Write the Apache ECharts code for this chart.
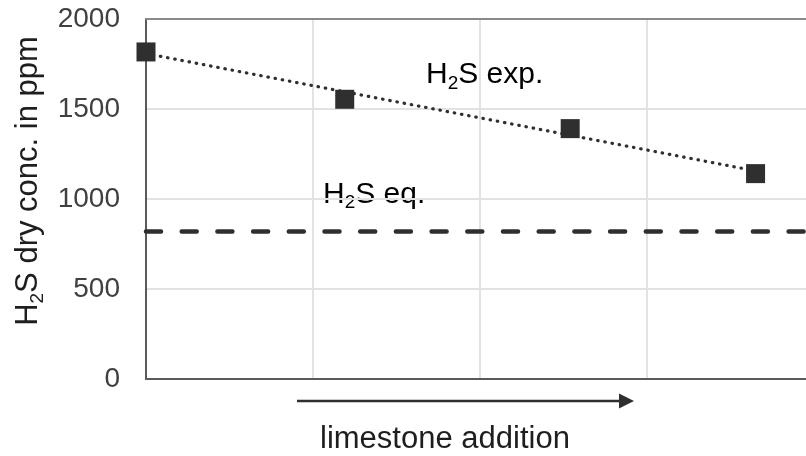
<!DOCTYPE html>
<html>
<head>
<meta charset="utf-8">
<script src="https://cdn.jsdelivr.net/npm/echarts@6/dist/echarts.min.js"></script>
<style>
  html, body { margin: 0; padding: 0; background: #fff; }
  #chart { width: 806px; height: 456px; }
</style>
</head>
<body>
<div id="chart"></div>
<script>
// measured H2S concentration (x = position along the limestone axis, arbitrary units)
const expX = [0, 1.19, 2.54, 3.65]
const expY = [1817, 1554, 1391, 1141]
// linear trend line, endpoints
const trendX = [0, 3.65]
const trendY = [1808, 1156]
// equilibrium level
const eqX = [0, 3.952]
const eqY = [820, 820]
// axis ranges (the plot runs past the right edge of the picture)
const yMin = 0, yMax = 2000, yStep = 500
const xMin = 0, xMax = 3.952, xStep = 1

const font = '"Liberation Sans", Arial, sans-serif'
const dark = '#2f2f2f'

const subRich = (size, subSize) => ({
  m: { fontSize: size, lineHeight: 36, fontFamily: font, color: '#1e1e1e' },
  s: { fontSize: subSize, lineHeight: 16, verticalAlign: 'bottom', fontFamily: font, color: '#1e1e1e' }
})

const chart = echarts.init(document.getElementById('chart'))

chart.setOption({
  backgroundColor: '#fff',
  animation: false,
  grid: { left: 146, top: 19, right: 0, height: 360 },
  xAxis: [
    {
      type: 'value', min: xMin, max: xMax, interval: xStep,
      axisLine: { show: true, onZero: false, lineStyle: { color: '#5a5a5a', width: 2 } },
      axisTick: { show: false },
      axisLabel: { show: false },
      splitLine: { show: true, showMaxLine: false, lineStyle: { color: '#e2e2e2', width: 2 } }
    },
    {
      type: 'value', position: 'top', min: xMin, max: xMax, interval: xStep,
      axisLine: { show: true, onZero: false, lineStyle: { color: '#8a8a8a', width: 2 } },
      axisTick: { show: false },
      axisLabel: { show: false },
      splitLine: { show: false }
    }
  ],
  yAxis: {
    type: 'value', min: yMin, max: yMax, interval: yStep,
    axisLine: { show: true, lineStyle: { color: '#5a5a5a', width: 2 } },
    axisTick: { show: false },
    axisLabel: { fontSize: 28, fontFamily: font, color: '#404040', margin: 26, formatter: v => String(v) },
    splitLine: { show: true, lineStyle: { color: '#e2e2e2', width: 2 } },
    name: '{m|H}{s|2}{m|S dry conc. in ppm}',
    nameLocation: 'middle',
    nameRotate: 90,
    nameGap: 97,
    nameTextStyle: {
      padding: [0, 0, 0, 36],
      rich: subRich(31, 19)
    }
  },
  series: [
    {
      name: 'trend',
      type: 'line',
      data: trendX.map((x, i) => [x, trendY[i]]),
      showSymbol: false,
      lineStyle: { color: dark, width: 3.2, type: [0.5, 6.8], cap: 'round' },
      z: 2
    },
    {
      name: 'H2S eq.',
      type: 'line',
      data: eqX.map((x, i) => [x, eqY[i]]),
      showSymbol: false,
      lineStyle: { color: dark, width: 4.5, type: [15, 20.7], cap: 'round' },
      z: 2
    },
    {
      name: 'H2S exp.',
      type: 'scatter',
      data: expX.map((x, i) => [x, expY[i]]),
      symbol: 'rect',
      symbolSize: 19,
      itemStyle: { color: dark, opacity: 1 },
      z: 3
    }
  ],
  graphic: [
    {
      type: 'text', left: 426, top: 60,
      style: { text: '{m|H}{s|2}{m|S exp.}', rich: subRich(30, 19) }
    },
    {
      type: 'text', left: 323, top: 179.5,
      style: { text: '{m|H}{s|2}{m|S eq.}', rich: subRich(30, 19) }
    },
    {
      type: 'line',
      shape: { x1: 297, y1: 401, x2: 622, y2: 401 },
      style: { stroke: dark, lineWidth: 2.5 }
    },
    {
      type: 'polygon',
      shape: { points: [[619, 393.5], [634, 401], [619, 408.5]] },
      style: { fill: dark }
    },
    {
      type: 'text', left: 320, top: 422.7,
      style: { text: 'limestone addition', font: '31px ' + font, fill: '#1e1e1e', lineHeight: 34 }
    }
  ]
})
</script>
</body>
</html>
